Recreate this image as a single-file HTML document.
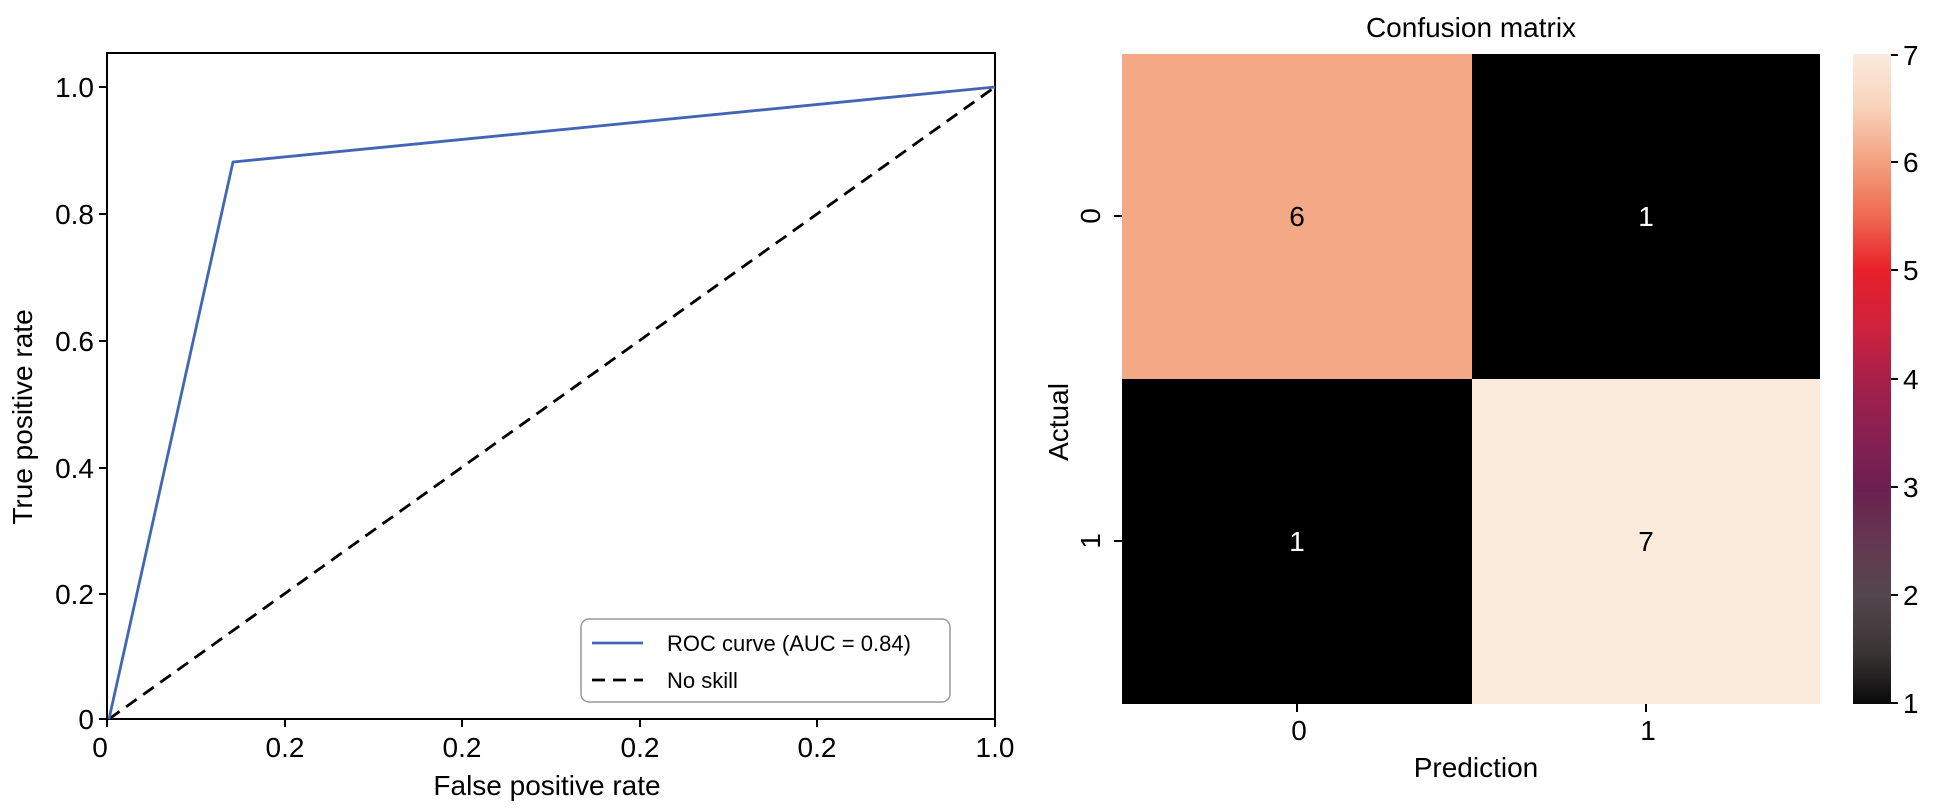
<!DOCTYPE html>
<html><head><meta charset="utf-8"><style>
html,body{margin:0;padding:0;background:#fff;}
svg{display:block;}
text{font-family:"Liberation Sans Narrow","Liberation Sans",sans-serif;fill:#000;}
</style></head><body>
<svg width="1950" height="809" viewBox="0 0 1950 809" xmlns="http://www.w3.org/2000/svg">
<defs>
<linearGradient id="cb" x1="0" y1="1" x2="0" y2="0">
<stop offset="0" stop-color="#0a0a0a"/>
<stop offset="0.08" stop-color="#3a3535"/>
<stop offset="0.167" stop-color="#54474e"/>
<stop offset="0.25" stop-color="#64384f"/>
<stop offset="0.333" stop-color="#6d1f52"/>
<stop offset="0.42" stop-color="#8a2050"/>
<stop offset="0.5" stop-color="#a8204a"/>
<stop offset="0.58" stop-color="#d0223c"/>
<stop offset="0.667" stop-color="#e8202a"/>
<stop offset="0.75" stop-color="#f0694f"/>
<stop offset="0.833" stop-color="#f3a07e"/>
<stop offset="0.92" stop-color="#f8d4bc"/>
<stop offset="1" stop-color="#faebdd"/>
</linearGradient>
</defs>
<!-- ROC axes -->
<rect x="107" y="53" width="888" height="666" fill="none" stroke="#000" stroke-width="2"/>
<g stroke="#000" stroke-width="2">
<line x1="99" y1="719" x2="107" y2="719"/><line x1="99" y1="594" x2="107" y2="594"/>
<line x1="99" y1="468" x2="107" y2="468"/><line x1="99" y1="341" x2="107" y2="341"/>
<line x1="99" y1="214" x2="107" y2="214"/><line x1="99" y1="87" x2="107" y2="87"/>
<line x1="107" y1="719" x2="107" y2="727"/><line x1="285" y1="719" x2="285" y2="727"/>
<line x1="462" y1="719" x2="462" y2="727"/><line x1="640" y1="719" x2="640" y2="727"/>
<line x1="817" y1="719" x2="817" y2="727"/><line x1="995" y1="719" x2="995" y2="727"/>
</g>
<g font-size="28" text-anchor="end">
<text x="94" y="729">0</text><text x="94" y="604">0.2</text><text x="94" y="478">0.4</text>
<text x="94" y="351">0.6</text><text x="94" y="224">0.8</text><text x="94" y="97">1.0</text>
</g>
<g font-size="28" text-anchor="middle">
<text x="100" y="757">0</text><text x="285" y="757">0.2</text><text x="462" y="757">0.2</text>
<text x="640" y="757">0.2</text><text x="817" y="757">0.2</text><text x="995" y="757">1.0</text>
<text x="547" y="795">False positive rate</text>
<text transform="translate(32,417) rotate(-90)">True positive rate</text>
</g>
<line x1="109" y1="719" x2="995" y2="87" stroke="#000" stroke-width="2.8" stroke-dasharray="13,8"/>
<polyline points="109,719 233,162 995,87" fill="none" stroke="#4266b5" stroke-width="2.8"/>
<rect x="581" y="619" width="369" height="83" rx="8" fill="#fff" stroke="#999" stroke-width="1.5"/>
<line x1="592" y1="643" x2="643" y2="643" stroke="#4266b5" stroke-width="2.8"/>
<line x1="592" y1="680" x2="643" y2="680" stroke="#000" stroke-width="2.8" stroke-dasharray="13,8"/>
<g font-size="22"><text x="667" y="651">ROC curve (AUC = 0.84)</text><text x="667" y="688">No skill</text></g>
<!-- Heatmap -->
<rect x="1122" y="54" width="350" height="325" fill="#f3a886"/>
<rect x="1472" y="54" width="348" height="325" fill="#000"/>
<rect x="1122" y="379" width="350" height="325" fill="#000"/>
<rect x="1472" y="379" width="348" height="325" fill="#faebdd"/>
<g font-size="28" text-anchor="middle">
<text x="1297" y="226">6</text><text x="1646" y="226" style="fill:#fff">1</text>
<text x="1297" y="551" style="fill:#fff">1</text><text x="1646" y="551">7</text>
<text x="1471" y="37">Confusion matrix</text>
<text x="1476" y="777">Prediction</text>
<text x="1299" y="740">0</text><text x="1648" y="740">1</text>
<text transform="translate(1068,422) rotate(-90)">Actual</text>
<text transform="translate(1100,216) rotate(-90)">0</text>
<text transform="translate(1100,541) rotate(-90)">1</text>
</g>
<g stroke="#000" stroke-width="2">
<line x1="1114" y1="216" x2="1122" y2="216"/><line x1="1114" y1="541" x2="1122" y2="541"/>
<line x1="1297" y1="704" x2="1297" y2="712"/><line x1="1646" y1="704" x2="1646" y2="712"/>
</g>
<rect x="1853" y="54" width="38" height="650" fill="url(#cb)"/>
<g stroke="#000" stroke-width="2">
<line x1="1891" y1="55" x2="1898" y2="55"/><line x1="1891" y1="162" x2="1898" y2="162"/>
<line x1="1891" y1="270" x2="1898" y2="270"/><line x1="1891" y1="379" x2="1898" y2="379"/>
<line x1="1891" y1="487" x2="1898" y2="487"/><line x1="1891" y1="595" x2="1898" y2="595"/>
<line x1="1891" y1="703" x2="1898" y2="703"/>
</g>
<g font-size="28">
<text x="1903" y="65">7</text><text x="1903" y="172">6</text><text x="1903" y="280">5</text>
<text x="1903" y="389">4</text><text x="1903" y="497">3</text><text x="1903" y="605">2</text>
<text x="1903" y="713">1</text>
</g>
</svg>
</body></html>
